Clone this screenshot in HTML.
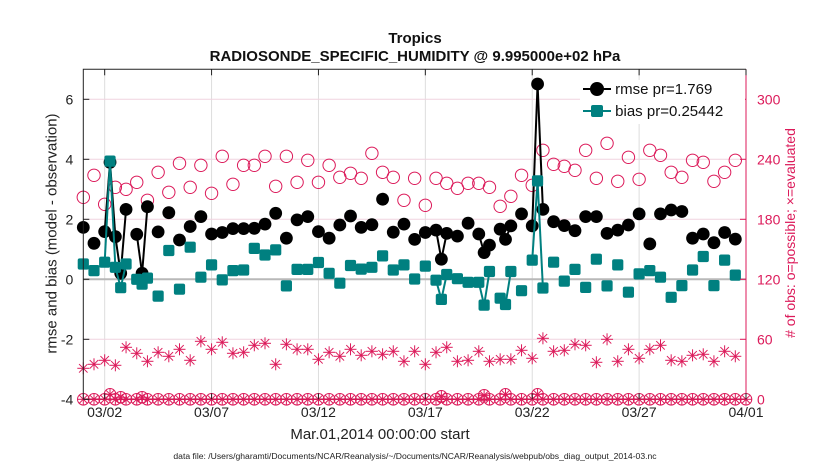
<!DOCTYPE html>
<html><head><meta charset="utf-8"><style>
body{margin:0;background:#fff;width:830px;height:470px;overflow:hidden;font-family:"Liberation Sans",Arial,sans-serif}
svg text{font-family:"Liberation Sans",Arial,sans-serif}
</style></head><body>
<svg id="chart" width="830" height="470" xmlns="http://www.w3.org/2000/svg"></svg>
<script>
// ---- data ----
const rmseT=[0,0.5,1,1.25,1.5,1.75,2,2.5,2.75,3,3.5,4,4.5,5,5.5,6,6.5,7,7.5,8,8.5,9,9.5,10,10.5,11,11.5,12,12.5,13,13.5,14,14.5,15,15.5,16,16.5,16.75,17,17.5,18,18.5,18.75,19,19.5,19.75,20,20.5,21,21.25,21.5,22,22.5,23,23.5,24,24.5,25,25.5,26,26.5,27,27.5,28,28.5,29,29.5,30,30.5];
const rmseV=[1.73,1.2,1.59,3.9,1.42,0.2,2.33,1.5,0.2,2.42,1.58,2.22,1.31,1.76,2.09,1.51,1.56,1.69,1.69,1.7,1.84,2.2,1.37,1.98,2.09,1.59,1.37,1.81,2.11,1.73,1.82,2.67,1.57,1.84,1.33,1.56,1.64,0.67,1.53,1.44,1.87,1.51,0.89,1.14,1.67,1.33,1.78,2.18,1.78,6.51,2.33,1.92,1.79,1.62,2.09,2.09,1.53,1.64,1.81,2.18,1.18,2.18,2.31,2.26,1.37,1.51,1.22,1.56,1.34];
const biasV=[0.51,0.29,0.57,3.94,0.4,-0.28,0.51,0.0,-0.16,0.04,-0.56,0.96,-0.33,1.07,0.07,0.48,-0.02,0.29,0.31,1.03,0.81,0.98,-0.22,0.33,0.33,0.56,0.2,-0.13,0.46,0.34,0.4,0.78,0.31,0.48,0.01,0.44,-0.03,-0.67,0.16,0.02,-0.1,-0.1,-0.86,0.26,-0.63,-0.84,0.26,-0.38,0.64,3.28,-0.29,0.57,-0.06,0.33,-0.27,0.67,-0.22,0.48,-0.43,0.18,0.29,0.07,-0.6,-0.21,0.31,0.76,-0.21,0.64,0.14];
const possibleV=[202,224,195,212,210,217,199,227,207,236,212,234,206,243,215,234,234,243,213,243,217,239,217,234,222,226,221,246,227,222,199,221,194,221,216,211,216,216,212,193,203,224,214,249,235,233,229,249,221,256,218,242,220,249,244,227,222,239,237,218,227,239];
const evaluatedV=[31,35,39,34,52,46,38,47,43,50,39,58,50,57,46,47,54,56,35,55,50,50,40,47,43,50,44,48,45,48,38,48,35,47,52,38,39,48,38,40,40,49,41,61,48,49,55,54,37,60,38,50,41,50,54,39,38,44,45,38,48,43];
const extraT=[1.25,1.75,2.75,16.75,18.75,19.75,21.25];
const extraV=[5,2,2,3,4,5,5];
const yTicks=[-4,-2,0,2,4,6];
const rTicks=[0,60,120,180,240,300];
const xTickDays=[1,6,11,16,21,26,31];
const xTickLabels=["03/02","03/07","03/12","03/17","03/22","03/27","04/01"];
// ---- axes ----
const L=83.3,R=746,T=69.3,B=399.3;
const X=t=>L+(R-L)*t/31;
const Y=v=>B-(v+4)*(B-T)/11;
const YR=c=>B-c*(B-T)/330;
const NS="http://www.w3.org/2000/svg";
const svg=document.getElementById('chart');
function mk(tag,at,parent){const e=document.createElementNS(NS,tag);for(const k in at)e.setAttribute(k,at[k]);(parent||svg).appendChild(e);return e;}
const CR="#dc1a5a",TE="#008080";
xTickDays.forEach((d,i)=>{const g=mk('line',{x1:X(d),x2:X(d),y1:T,y2:B,stroke:'#ddd','stroke-width':1});

});
rTicks.forEach(c=>{const g=mk('line',{x1:L,x2:R,y1:YR(c),y2:YR(c),stroke:'#f0d3df','stroke-width':1});

});
const zl=mk('line',{x1:L,x2:R,y1:Y(0),y2:Y(0),stroke:'#b8b8b8','stroke-width':2});


const base=mk('line',{x1:X(0),x2:X(31),y1:YR(0),y2:YR(0),stroke:'#a0103c','stroke-width':1.5});


function star(x,y,r,name){const g=mk('g',{stroke:CR,'stroke-width':1,fill:'none'});


for(let a=0;a<4;a++){const an=a*Math.PI/4;mk('line',{x1:x-r*Math.cos(an),y1:y-r*Math.sin(an),x2:x+r*Math.cos(an),y2:y+r*Math.sin(an)},g);}return g;}
for(let i=0;i<=62;i++){const t=i*0.5;const c=mk('circle',{cx:X(t),cy:YR(0),r:5.8,fill:'none',stroke:CR,'stroke-width':1});


star(X(t),YR(0),5.8,'evaluated-zero-marker');}
extraT.forEach((t,i)=>{const c=mk('circle',{cx:X(t),cy:YR(extraV[i]),r:5.8,fill:'none',stroke:CR,'stroke-width':1});


star(X(t),YR(extraV[i]),5.8,'evaluated-zero-marker');});
possibleV.forEach((c,i)=>{const e=mk('circle',{cx:X(i*0.5),cy:YR(c),r:6.2,fill:'none',stroke:CR,'stroke-width':1});

});
evaluatedV.forEach((c,i)=>{star(X(i*0.5),YR(c),6,'evaluated-obs-marker');});
function lines(vals,color,name){for(let i=1;i<rmseT.length;i++){if(rmseT[i]-rmseT[i-1]<0.3){const l=mk('line',{x1:X(rmseT[i-1]),y1:Y(vals[i-1]),x2:X(rmseT[i]),y2:Y(vals[i]),stroke:color,'stroke-width':2});

}}}
lines(rmseV,'#000','rmse-line');
rmseT.forEach((t,i)=>{const e=mk('circle',{cx:X(t),cy:Y(rmseV[i]),r:6.4,fill:'#000'});

});
lines(biasV,TE,'bias-line');
rmseT.forEach((t,i)=>{const e=mk('rect',{x:X(t)-5.6,y:Y(biasV[i])-5.6,width:11.2,height:11.2,rx:2,fill:TE});

});
const fr=mk('path',{d:`M${L} ${B}V${T}H${R}`,fill:'none',stroke:'#222','stroke-width':1});


const ra=mk('line',{x1:R,x2:R,y1:T,y2:B,stroke:CR,'stroke-width':1});


yTicks.forEach(v=>{mk('line',{x1:L,x2:L+6,y1:Y(v),y2:Y(v),stroke:'#222'});
const tx=mk('text',{x:L-10,y:Y(v)+5,'text-anchor':'end','font-size':14,fill:'#222'});tx.textContent=v;

});
rTicks.forEach(c=>{mk('line',{x1:R-6,x2:R,y1:YR(c),y2:YR(c),stroke:CR});
const tx=mk('text',{x:R+11,y:YR(c)+5,'font-size':14,fill:CR});tx.textContent=c;

});
xTickDays.forEach((d,i)=>{mk('line',{x1:X(d),x2:X(d),y1:T,y2:T+6,stroke:'#222'});mk('line',{x1:X(d),x2:X(d),y1:B,y2:B-6,stroke:'#222'});
const tx=mk('text',{x:X(d),y:417,'text-anchor':'middle','font-size':14,fill:'#222'});tx.textContent=xTickLabels[i];

});
</script>
<div style="position:absolute;left:0;top:0;width:830px;height:470px;pointer-events:none">
<div style="position:absolute;left:0;width:830px;top:30px;text-align:center;font-weight:bold;font-size:15px;color:#111;line-height:18px">Tropics<br>RADIOSONDE_SPECIFIC_HUMIDITY @ 9.995000e+02 hPa</div>
<div style="position:absolute;left:215px;width:330px;top:426px;text-align:center;font-size:15px;color:#222">Mar.01,2014 00:00:00 start</div>
<div style="position:absolute;left:0;width:830px;top:451px;text-align:center;font-size:8.6px;color:#222;white-space:nowrap">data file: /Users/gharamti/Documents/NCAR/Reanalysis/~/Documents/NCAR/Reanalysis/webpub/obs_diag_output_2014-03.nc</div>
<div style="position:absolute;left:-98px;top:225px;width:300px;text-align:center;font-size:15px;color:#222;transform:rotate(-90deg)">rmse and bias (model - observation)</div>
<div style="position:absolute;left:640px;top:225px;width:300px;text-align:center;font-size:14px;color:#dc1a5a;transform:rotate(-90deg)"># of obs: o=possible; ×=evaluated</div>
<div style="position:absolute;left:580px;top:80px;width:165px;height:44px;background:#fff">
 <div style="position:absolute;left:3px;top:1px;font-size:15px;color:#111;white-space:nowrap"><span style="display:inline-block;position:relative;width:28px;height:14px;vertical-align:-2px"><span style="position:absolute;left:0;top:6px;width:28px;height:2px;background:#000"></span><span style="position:absolute;left:7px;top:0;width:14px;height:14px;border-radius:50%;background:#000"></span></span> rmse pr=1.769</div>
 <div style="position:absolute;left:3px;top:23px;font-size:15px;color:#111;white-space:nowrap"><span style="display:inline-block;position:relative;width:28px;height:14px;vertical-align:-2px"><span style="position:absolute;left:0;top:6px;width:28px;height:2px;background:#008080"></span><span style="position:absolute;left:8px;top:1px;width:12px;height:12px;border-radius:2px;background:#008080"></span></span> bias pr=0.25442</div>
</div>
</div>
</body></html>
